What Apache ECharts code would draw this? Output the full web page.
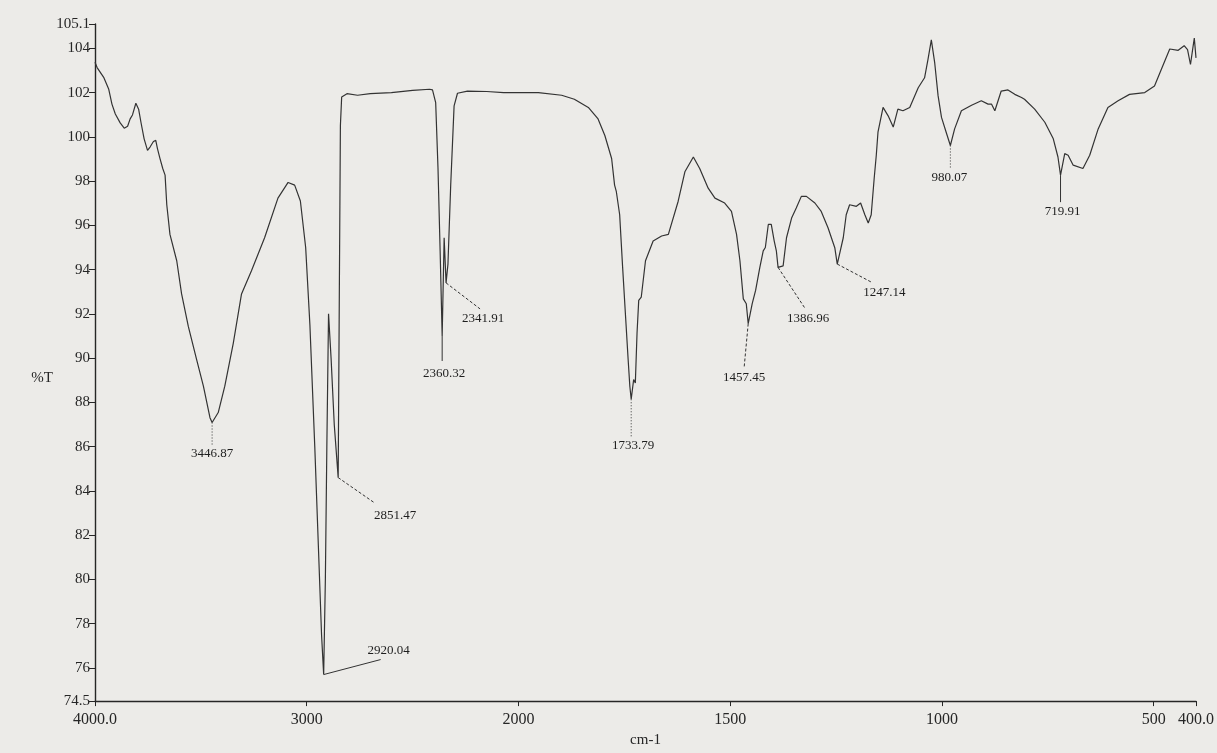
<!DOCTYPE html>
<html><head><meta charset="utf-8">
<script src="https://cdn.jsdelivr.net/npm/echarts@6/dist/echarts.min.js"></script>
<style>html,body{margin:0;padding:0;background:#ecebe8;} #c{width:1217px;height:753px;}</style>
</head><body><div id="c"></div>
<script>
// ---- data (wavenumber in cm-1, %T) ----
const wavenumber = [4000,3990,3959,3935,3920,3904,3881,3862,3846,3834,3823,3818,3807,3794,3783,3768,3752,3740,3724,3713,3705,3693,3680,3669,3661,3646,3614,3591,3559,3520,3488,3457,3446.87,3418,3387,3347,3308,3261,3199,3136,3088,3057,3030,3005,2985,2962,2945,2930,2920.04,2912,2905,2897,2885,2870,2851.47,2846,2841,2835,2810,2760,2700,2600,2500,2420,2406,2391,2380,2370,2360.32,2351,2341.91,2333,2320,2304,2288,2241,2150,2070,1953,1898,1868,1835,1812,1796,1780,1773,1769,1761,1754,1747,1741,1737,1733.79,1728,1724,1720,1716,1710,1700,1682,1662,1646,1623,1607,1587,1572,1552,1536,1513,1497,1485,1477,1469,1462,1457.45,1448,1440,1430,1422,1417,1410,1403,1396,1391,1386.96,1375,1367,1355,1344,1332,1320,1300,1285,1269,1253,1247.14,1233,1226,1218,1202,1192,1182,1174,1167,1160,1155,1151,1139,1127,1115,1104,1092,1076,1056,1041,1033,1025,1017,1009,1001,990,980.07,970,954,930,907,891,883,875,860,844,828,812,805,781,757,737,726,719.91,710,702,690,667,651,631,608,584,557,521,498,482,462,442,428,420,413,408,404,400];
const transmittance = [103.37,103.13,102.69,102.15,101.48,101.03,100.63,100.39,100.48,100.81,100.99,100.90,101.52,101.25,100.66,99.91,99.39,99.54,99.79,99.84,99.47,99.02,98.57,98.27,96.93,95.59,94.40,92.90,91.42,89.93,88.73,87.31,87.09,87.54,88.73,90.67,92.90,93.95,95.44,97.23,97.94,97.82,97.10,95.00,91.50,86.00,81.50,77.50,75.70,80.00,86.00,92.00,90.00,87.00,84.60,93.00,100.50,101.80,101.95,101.88,101.95,102.00,102.10,102.15,102.12,101.55,98.57,94.86,91.00,95.44,93.40,94.25,97.82,101.40,101.97,102.07,102.05,102.00,102.00,101.88,101.70,101.33,100.81,100.06,99.02,97.82,97.54,96.48,94.10,91.86,89.94,88.73,88.14,89.03,88.88,91.12,92.61,92.76,94.40,95.29,95.52,95.59,97.08,98.42,99.09,98.57,97.68,97.23,97.01,96.63,95.59,94.40,92.68,92.46,91.56,92.46,93.06,94.10,94.85,95.00,96.04,96.04,95.29,94.85,94.10,94.17,95.44,96.33,96.78,97.31,97.31,97.01,96.63,95.89,94.99,94.25,95.44,96.48,96.93,96.86,97.01,96.48,96.11,96.48,98.12,99.17,100.21,101.33,100.95,100.44,101.25,101.18,101.33,102.22,102.67,103.49,104.38,103.34,101.85,100.88,100.21,99.61,100.36,101.18,101.43,101.63,101.48,101.48,101.18,102.07,102.12,101.92,101.78,101.70,101.25,100.66,99.91,99.09,98.27,99.24,99.17,98.72,98.57,99.17,100.36,101.33,101.63,101.92,102.00,102.30,103.04,103.97,103.91,104.12,103.94,103.27,103.94,104.46,103.57];

const xTickValues = [4000,3000,2000,1500,1000,500,400];
const xTickLabels = ['4000.0','3000','2000','1500','1000','500','400.0'];
const yTickValues = [74.5,76,78,80,82,84,86,88,90,92,94,96,98,100,102,104,105.1];
const yTickLabels = ['74.5','76','78','80','82','84','86','88','90','92','94','96','98','100','102','104','105.1'];

const peakWavenumbers = [3446.87,2920.04,2851.47,2360.32,2341.91,1733.79,1457.45,1386.96,1247.14,980.07,719.91];
const peakLabels = ['3446.87','2920.04','2851.47','2360.32','2341.91','1733.79','1457.45','1386.96','1247.14','980.07','719.91'];

// ---- annotation styling (pixel offsets from the peak point) ----
const annoStyle = [
  {line:[0,22], text:[0,31], dash:[1,2]},
  {line:[57,-15], text:[65,-24], dash:null},
  {line:[36,25], text:[57,38], dash:[3,2]},
  {line:[0,25], text:[2,38], dash:null},
  {line:[34,26], text:[37,36], dash:[3,2]},
  {line:[0,38], text:[2,46], dash:[1,2]},
  {line:[-4,43], text:[-4,54], dash:[3,2]},
  {line:[27,41], text:[30,51], dash:[3,2]},
  {line:[34,18], text:[47,28], dash:[3,2]},
  {line:[0,22], text:[-1,32], dash:[1,2]},
  {line:[0,27], text:[2,36], dash:null}
];

// split wavenumber scale: 4000-2000 compressed, 2000-400 expanded x2
function toAxis(wn){ return wn >= 2000 ? 4000 - wn : 2000 + 2*(2000 - wn); }

const seriesData = wavenumber.map((w,i)=>[toAxis(w), transmittance[i]]);
const xCustom = xTickValues.map(toAxis);

const chart = echarts.init(document.getElementById('c'), null, {renderer:'canvas'});
const serif = '"Liberation Serif","DejaVu Serif",serif';
const ink = '#262626';

chart.setOption({
  backgroundColor:'#ecebe8',
  animation:false,
  grid:{left:95, right:15, top:24, bottom:45},
  xAxis:{
    type:'value', min:0, max:toAxis(400),
    axisLine:{show:true, onZero:false, lineStyle:{color:ink, width:1.4}},
    axisTick:{show:true, customValues:xCustom, length:5, lineStyle:{color:ink}},
    axisLabel:{show:true, customValues:xCustom, margin:11, color:ink,
      fontFamily:serif, fontSize:16,
      formatter:function(u){
        for(let i=0;i<xCustom.length;i++){ if(Math.abs(xCustom[i]-u)<1e-6) return xTickLabels[i]; }
        return '';
      }},
    splitLine:{show:false},
    name:'cm-1', nameLocation:'middle', nameGap:31,
    nameTextStyle:{fontFamily:serif, fontSize:15, color:ink}
  },
  yAxis:{
    type:'value', min:74.5, max:105.1,
    axisLine:{show:true, onZero:false, lineStyle:{color:ink, width:1.4}},
    axisTick:{show:true, customValues:yTickValues, length:6, lineStyle:{color:ink}},
    axisLabel:{show:true, customValues:yTickValues, margin:5, color:ink,
      fontFamily:serif, fontSize:15, padding:[0,0,6,0],
      formatter:function(v){
        for(let i=0;i<yTickValues.length;i++){ if(Math.abs(yTickValues[i]-v)<1e-6) return yTickLabels[i]; }
        return '';
      }},
    splitLine:{show:false}
  },
  series:[{
    type:'line', data:seriesData, showSymbol:false, smooth:false,
    lineStyle:{color:'#333', width:1.2}, silent:true
  }]
});

// annotations placed through the chart's own coordinate conversion
const graphics = [];
peakWavenumbers.forEach((w,i)=>{
  const idx = wavenumber.indexOf(w);
  const p = chart.convertToPixel({gridIndex:0}, [toAxis(w), transmittance[idx]]);
  const s = annoStyle[i];
  graphics.push({type:'line', silent:true,
    shape:{x1:p[0], y1:p[1], x2:p[0]+s.line[0], y2:p[1]+s.line[1]},
    style:{stroke:'#333', lineWidth:1, lineDash:s.dash || null}});
  graphics.push({type:'text', silent:true,
    x:p[0]+s.text[0], y:p[1]+s.text[1],
    style:{text:peakLabels[i], font:'13px '+serif, fill:'#1e1e1e',
      align:'center', verticalAlign:'middle', textAlign:'center', textVerticalAlign:'middle'}});
});
graphics.push({type:'text', silent:true, x:42, y:378,
  style:{text:'%T', font:'15px '+serif, fill:ink, align:'center', verticalAlign:'middle',
    textAlign:'center', textVerticalAlign:'middle'}});
chart.setOption({graphic:graphics});
</script></body></html>
